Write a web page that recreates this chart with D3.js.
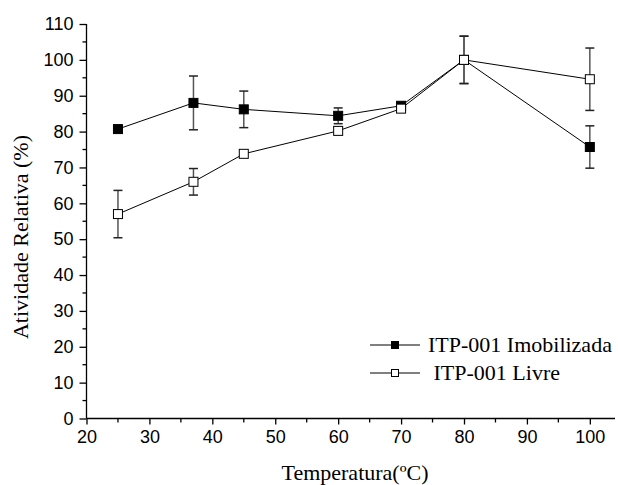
<!DOCTYPE html>
<html><head><meta charset="utf-8">
<script src="https://cdn.jsdelivr.net/npm/d3@7"></script>
<style>body{margin:0;background:#fff}svg{display:block}</style>
</head><body>
<svg id="c" width="618" height="485"></svg>
<script>
const temps = [25, 37, 45, 60, 70, 80, 100];
const imobValues = [80.7, 88.0, 86.2, 84.4, 87.2, 100.0, 75.7];
const imobErrors = [0.3, 7.5, 5.1, 2.2, 0.5, 6.6, 5.9];
const livreValues = [57.0, 66.0, 73.8, 80.2, 86.4, 100.0, 94.6];
const livreErrors = [6.6, 3.7, 0.4, 1.0, 1.0, 6.6, 8.7];
const xTicks = [20, 30, 40, 50, 60, 70, 80, 90, 100];
const yTicks = [0, 10, 20, 30, 40, 50, 60, 70, 80, 90, 100, 110];
const seriesNames = ["ITP-001 Imobilizada", " ITP-001 Livre"];

const svg = d3.select("#c");
const x = d3.scaleLinear().domain([20, 104]).range([86.5, 615]);
const y = d3.scaleLinear().domain([0, 110]).range([418.5, 24]);
const sans = "Liberation Sans, Arial, sans-serif";
const serif = "Liberation Serif, Times New Roman, serif";

// axes
const xAxis = d3.axisBottom(x).tickValues(xTicks).tickSize(6).tickPadding(6).tickFormat(d3.format("d"));
const gx = svg.append("g").attr("transform", `translate(0,${y(0)})`).call(xAxis);
gx.select(".domain").attr("d", `M${x(20)},0H${x(104)}`);
gx.selectAll(".tick text").attr("font-family", sans).attr("font-size", 18).attr("fill", "#000");
gx.selectAll("line,path").attr("stroke", "#000").attr("stroke-width", 1.3);
const xMinor = d3.range(25, 101, 10);
svg.append("g").selectAll("line").data(xMinor).join("line")
  .attr("x1", d => x(d)).attr("x2", d => x(d)).attr("y1", y(0)).attr("y2", y(0) + 4)
  .attr("stroke", "#000").attr("stroke-width", 1.3);

const yAxis = d3.axisLeft(y).tickValues(yTicks).tickSize(7).tickPadding(6);
const gy = svg.append("g").attr("transform", `translate(${x(20)},0)`).call(yAxis);
gy.select(".domain").attr("d", `M0,${y(0)}V${y(110)}`);
gy.selectAll(".tick text").attr("font-family", sans).attr("font-size", 18).attr("fill", "#000");
gy.selectAll("line,path").attr("stroke", "#000").attr("stroke-width", 1.3);
const yMinor = d3.range(5, 110, 10);
svg.append("g").selectAll("line").data(yMinor).join("line")
  .attr("x1", x(20) - 4).attr("x2", x(20)).attr("y1", d => y(d)).attr("y2", d => y(d))
  .attr("stroke", "#000").attr("stroke-width", 1.3);

// titles
svg.append("text").attr("x", 355).attr("y", 480).attr("text-anchor", "middle")
  .attr("font-family", serif).attr("font-size", 22).text("Temperatura(ºC)");
svg.append("text").attr("transform", "translate(28,237) rotate(-90)").attr("text-anchor", "middle")
  .attr("font-family", serif).attr("font-size", 22).text("Atividade Relativa (%)");

const series = [
  {vals: imobValues, errs: imobErrors, fill: "#000"},
  {vals: livreValues, errs: livreErrors, fill: "#fff"}
];
const line = d3.line().x((d, i) => x(temps[i])).y(d => y(d));

series.forEach(s => {
  const g = svg.append("g");
  temps.forEach((t, i) => {
    const e = s.errs[i];
    if (e < 0.6) return;
    const cx = x(t), y1 = y(s.vals[i] + e), y2 = y(s.vals[i] - e);
    g.append("line").attr("x1", cx).attr("x2", cx).attr("y1", y1).attr("y2", y2).attr("stroke", "#555").attr("stroke-width", 1.5);
    [y1, y2].forEach(yy => g.append("line").attr("x1", cx - 4.5).attr("x2", cx + 4.5).attr("y1", yy).attr("y2", yy).attr("stroke", "#222").attr("stroke-width", 1.5));
  });
  g.append("path").attr("d", line(s.vals)).attr("fill", "none").attr("stroke", "#000").attr("stroke-width", 1);
  g.selectAll("rect").data(s.vals).join("rect")
    .attr("x", (d, i) => x(temps[i]) - 4.5).attr("y", d => y(d) - 4.5)
    .attr("width", 9).attr("height", 9).attr("fill", s.fill).attr("stroke", "#000").attr("stroke-width", 1);
});

// legend
const legY = [345, 373];
seriesNames.forEach((name, i) => {
  const g = svg.append("g");
  g.append("line").attr("x1", 370).attr("x2", 420).attr("y1", legY[i]).attr("y2", legY[i]).attr("stroke", "#000").attr("stroke-width", 1);
  g.append("rect").attr("x", 391.5).attr("y", legY[i] - 3.5).attr("width", 7).attr("height", 7)
    .attr("fill", series[i].fill).attr("stroke", "#000").attr("stroke-width", 1);
  g.append("text").attr("x", 428).attr("y", legY[i] + 7).style("white-space", "pre")
    .attr("font-family", serif).attr("font-size", 22).text(name);
});
</script>
</body></html>
